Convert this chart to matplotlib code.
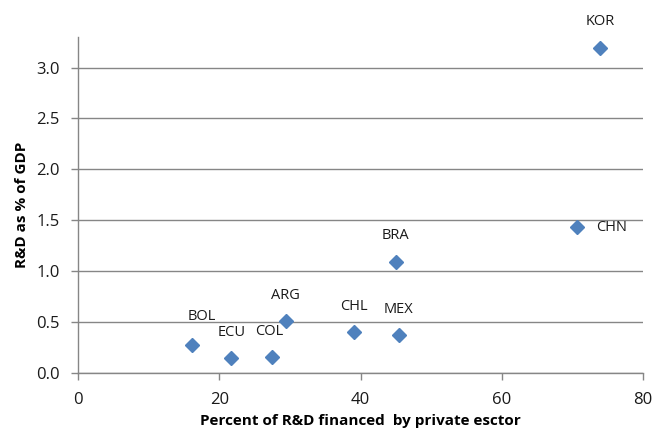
import matplotlib
matplotlib.use("Agg")
import matplotlib.pyplot as plt

plt.rcParams['font.family'] = ['Open Sans', 'DejaVu Sans']

# R&D intensity vs share financed by business sector
countries = ["KOR", "CHN", "BRA", "CHL", "MEX", "BOL", "ECU", "COL", "ARG"]
private_share = [73.9, 70.6, 45.0, 39.1, 45.4, 16.2, 21.7, 27.4, 29.4]
rd_gdp = [3.19, 1.43, 1.095, 0.40, 0.37, 0.28, 0.15, 0.16, 0.51]

# label offsets in pixels (dx, dy) from each marker
label_pos = {
    "KOR": (0, 27), "CHN": (35, 0), "BRA": (0, 26), "CHL": (0, 26),
    "MEX": (0, 26), "BOL": (9, 28), "ECU": (0, 25), "COL": (-2, 25),
    "ARG": (0, 26),
}

grey = "#868686"
blue = "#4F81BD"

fig = plt.figure(figsize=(6.55, 4.29), dpi=100)
ax = fig.add_axes([0.119, 0.1305, 0.863, 0.7833])

ax.plot(private_share, rd_gdp, linestyle="none", marker="D", markersize=7.5,
        color=blue, zorder=3)

for c, x, y in zip(countries, private_share, rd_gdp):
    dx, dy = label_pos[c]
    ax.annotate(c, (x, y), xytext=(dx, dy), textcoords="offset pixels",
                ha="center", va="center", fontsize=10.5, color="#1a1a1a")

ax.set_xlim(0, 80)
ax.set_ylim(0, 3.3)
ax.set_xticks([0, 20, 40, 60, 80])
ax.set_yticks([0.0, 0.5, 1.0, 1.5, 2.0, 2.5, 3.0])
ax.set_yticklabels(["%.1f" % v for v in ax.get_yticks()])

ax.grid(axis="y", color=grey, linewidth=1.0)
ax.set_axisbelow(True)
for side in ["top", "right"]:
    ax.spines[side].set_visible(False)
for side in ["left", "bottom"]:
    ax.spines[side].set_color(grey)
    ax.spines[side].set_linewidth(1.0)
ax.tick_params(axis="both", colors=grey, length=5, width=1.0, labelsize=12,
               labelcolor="#1a1a1a")
ax.tick_params(axis="y", pad=8)
ax.tick_params(axis="x", pad=9)

ax.set_ylabel("R&D as % of GDP", fontsize=11, fontweight="bold", labelpad=5)
ax.set_xlabel("Percent of R&D financed  by private esctor", fontsize=11,
              fontweight="bold", labelpad=4)

fig.savefig("out.png", dpi=100)
